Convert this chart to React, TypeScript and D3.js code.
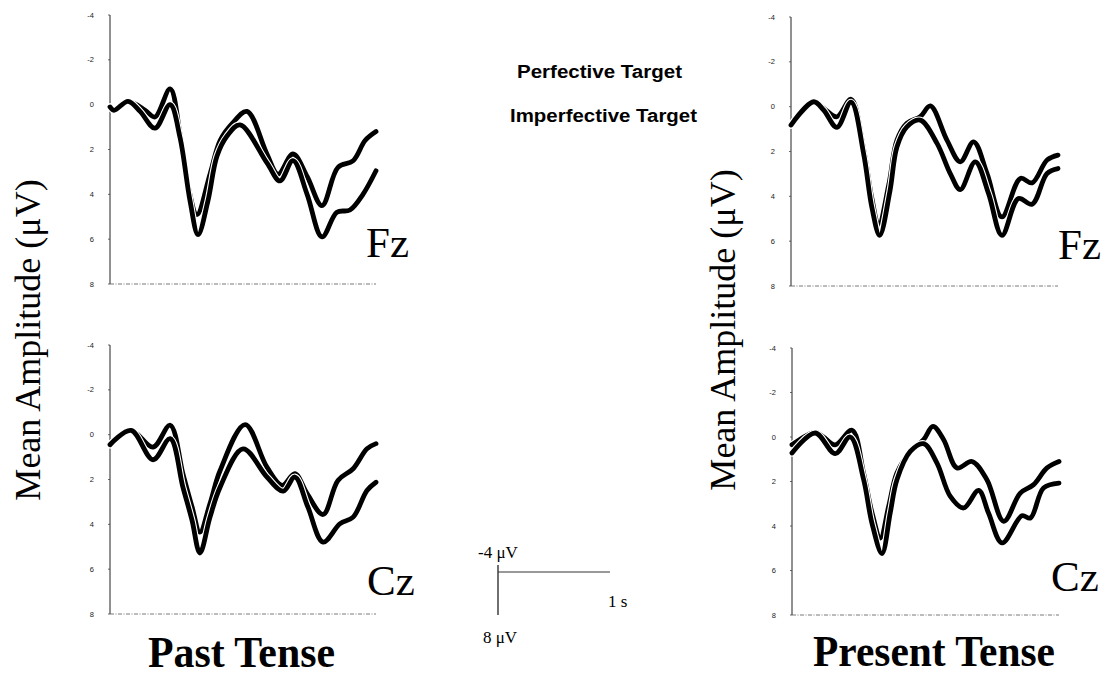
import * as d3 from "d3";

type Pt = [number, number];

// amplitude ticks (µV, negative up)
const yTicks = [-4, -2, 0, 2, 4, 6, 8];

// [time ms, amplitude µV]
const pastFzPerf: Pt[] = [
  [0, 0.1], [15, 0.25], [68, -0.15], [132, 0.25], [169, 0.55], [226, -0.7],
  [263, 1.3], [293, 3.6], [327, 4.9], [376, 3.1], [414, 1.6], [459, 0.85],
  [515, 0.3], [590, 2.2], [632, 3.1], [688, 2.2], [741, 3.2], [797, 4.5],
  [857, 2.8], [914, 2.5], [959, 1.6], [1000, 1.2],
];
const pastFzImp: Pt[] = [
  [0, 0.1], [15, 0.25], [68, -0.15], [113, 0.3], [169, 1.05], [226, 0.0],
  [263, 1.45], [301, 4.3], [331, 5.8], [368, 4.3], [402, 2.3], [440, 1.4],
  [489, 0.9], [590, 2.6], [639, 3.4], [688, 2.5], [741, 4.0], [797, 5.9],
  [853, 4.8], [902, 4.7], [951, 4.0], [1000, 2.95],
];
const pastCzPerf: Pt[] = [
  [0, 0.45], [79, -0.19], [162, 0.55], [226, -0.42], [274, 1.74], [308, 3.2],
  [338, 4.35], [376, 3.07], [414, 1.6], [508, -0.45], [590, 1.45], [647, 2.26],
  [695, 1.74], [741, 2.63], [801, 3.56], [857, 2.04], [914, 1.52], [966, 0.63],
  [1000, 0.4],
];
const pastCzImp: Pt[] = [
  [0, 0.45], [79, -0.19], [162, 1.12], [226, 0.18], [274, 2.34], [308, 3.8],
  [338, 5.28], [376, 3.68], [414, 2.34], [500, 0.63], [590, 1.89], [651, 2.52],
  [695, 1.89], [744, 3.23], [801, 4.79], [865, 3.97], [914, 3.68], [966, 2.49],
  [1000, 2.12],
];
const presFzPerf: Pt[] = [
  [0, 0.82], [85, -0.22], [122, 0.07], [172, 0.45], [225, -0.33], [272, 1.9],
  [303, 4.1], [328, 5.29], [366, 3.5], [397, 1.49], [434, 0.74], [484, 0.45],
  [522, -0.03], [584, 1.49], [634, 2.46], [684, 1.57], [734, 2.98], [790, 4.92],
  [859, 3.2], [903, 3.4], [959, 2.38], [1000, 2.16],
];
const presFzImp: Pt[] = [
  [0, 0.82], [85, -0.22], [122, 0.15], [172, 0.92], [225, -0.2], [272, 2.1],
  [303, 4.5], [332, 5.74], [370, 3.8], [397, 1.79], [434, 0.9], [484, 0.6],
  [547, 1.64], [597, 3.0], [634, 3.7], [690, 2.46], [740, 3.88], [790, 5.74],
  [852, 4.1], [903, 4.35], [959, 2.98], [1000, 2.76],
];
const presCzPerf: Pt[] = [
  [0, 0.35], [87, -0.21], [118, 0.0], [162, 0.35], [225, -0.3], [268, 1.62],
  [300, 3.42], [331, 4.54], [362, 3.12], [393, 1.62], [443, 0.65], [493, 0.12],
  [528, -0.48], [568, 0.12], [618, 1.39], [674, 1.1], [730, 1.92], [793, 3.79],
  [855, 2.52], [905, 2.14], [955, 1.39], [1000, 1.1],
];
const presCzImp: Pt[] = [
  [0, 0.72], [87, -0.18], [162, 0.75], [218, 0.0], [268, 1.9], [300, 3.9],
  [337, 5.24], [368, 3.4], [393, 1.92], [443, 0.65], [493, 0.3], [543, 1.17],
  [593, 2.67], [643, 3.19], [699, 2.4], [736, 3.42], [787, 4.76], [861, 3.54],
  [893, 3.64], [942, 2.29], [1000, 2.07],
];

const serif = "'Liberation Serif', 'Times New Roman', serif";
const sans = "'Liberation Sans', Arial, sans-serif";

type PanelProps = {
  left: number;
  right: number;
  top: number;
  bottom: number;
  series: Pt[][];
  site: string;
  siteX: number;
  siteY: number;
};

function Panel({ left, right, top, bottom, series, site, siteX, siteY }: PanelProps) {
  const x = d3.scaleLinear().domain([0, 1000]).range([left, right]);
  const y = d3.scaleLinear().domain([-4, 8]).range([top, bottom]);
  const line = d3
    .line<Pt>()
    .x((d) => x(d[0]))
    .y((d) => y(d[1]))
    .curve(d3.curveCatmullRom.alpha(0.5));

  return (
    <g>
      <line x1={left} x2={left} y1={top} y2={bottom} stroke="#222" strokeWidth={1} />
      <line
        x1={left}
        x2={right}
        y1={bottom}
        y2={bottom}
        stroke="#555"
        strokeWidth={0.8}
        strokeDasharray="4 1.5 1 1.5"
      />
      {yTicks.map((t) => (
        <g key={t}>
          <line x1={left - 2} x2={left} y1={y(t)} y2={y(t)} stroke="#444" strokeWidth={0.8} />
          <text
            x={left - 16}
            y={y(t)}
            dy="0.35em"
            textAnchor="end"
            fontSize={7.5}
            fontFamily={sans}
            fill="#222"
          >
            {t}
          </text>
        </g>
      ))}
      {series.map((s, i) => (
        <g key={i}>
          <path d={line(s) || ""} fill="none" stroke="#fff" strokeWidth={7} strokeLinecap="round" />
          <path
            d={line(s) || ""}
            fill="none"
            stroke="#000"
            strokeWidth={4.8}
            strokeLinecap="round"
            strokeLinejoin="round"
          />
        </g>
      ))}
      <text x={siteX} y={siteY} fontSize={43} fontFamily={serif} fill="#000">
        {site}
      </text>
    </g>
  );
}

export default function App() {
  // scale bar annotation
  const sbY = d3.scaleLinear().domain([-4, 8]).range([565, 615]);
  const sbX = d3.scaleLinear().domain([0, 1]).range([498, 610]);

  return (
    <svg
      width={1113}
      height={679}
      style={{ position: "absolute", left: 0, top: 0, background: "#fff" }}
    >
      <rect width={1113} height={679} fill="#fff" />

      <Panel left={110} right={376} top={15} bottom={284}
        series={[pastFzPerf, pastFzImp]} site="Fz" siteX={366} siteY={257} />
      <Panel left={110} right={376} top={345} bottom={614}
        series={[pastCzPerf, pastCzImp]} site="Cz" siteX={367} siteY={595} />
      <Panel left={791} right={1058} top={17} bottom={286}
        series={[presFzPerf, presFzImp]} site="Fz" siteX={1058} siteY={259} />
      <Panel left={792} right={1059} top={348} bottom={615}
        series={[presCzPerf, presCzImp]} site="Cz" siteX={1051} siteY={591} />

      <text transform="translate(40,340) rotate(-90)" textAnchor="middle"
        fontSize={36} fontFamily={serif} fill="#000">
        Mean Amplitude (μV)
      </text>
      <text transform="translate(735,330) rotate(-90)" textAnchor="middle"
        fontSize={36} fontFamily={serif} fill="#000">
        Mean Amplitude (μV)
      </text>

      <text x={148} y={667} fontSize={44} fontWeight="bold" fontFamily={serif}
        textLength={187} lengthAdjust="spacingAndGlyphs">
        Past Tense
      </text>
      <text x={813} y={666} fontSize={44} fontWeight="bold" fontFamily={serif}
        textLength={242} lengthAdjust="spacingAndGlyphs">
        Present Tense
      </text>

      <text x={517} y={78} fontSize={18} fontWeight="bold" fontFamily={sans}
        textLength={165} lengthAdjust="spacingAndGlyphs">
        Perfective Target
      </text>
      <text x={510} y={122} fontSize={18} fontWeight="bold" fontFamily={sans}
        textLength={187} lengthAdjust="spacingAndGlyphs">
        Imperfective Target
      </text>

      <line x1={sbX(0)} x2={sbX(0)} y1={sbY(-4)} y2={sbY(8)} stroke="#222" strokeWidth={1.3} />
      <line x1={sbX(0)} x2={sbX(1)} y1={572} y2={572} stroke="#333" strokeWidth={1} />
      <text x={478} y={558} fontSize={17} fontFamily={serif}>-4 μV</text>
      <text x={483} y={643} fontSize={17} fontFamily={serif}>8 μV</text>
      <text x={608} y={607} fontSize={17} fontFamily={serif}>1 s</text>
    </svg>
  );
}
